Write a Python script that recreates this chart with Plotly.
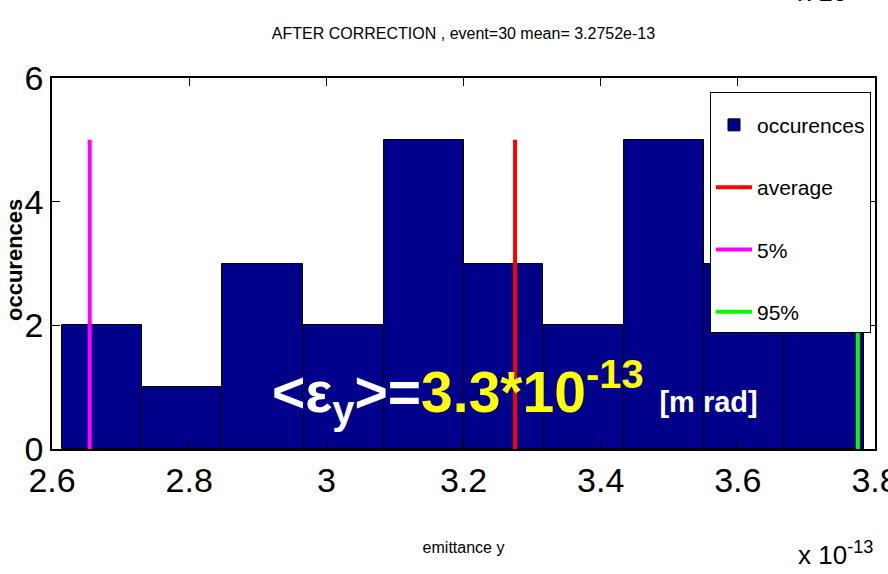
import plotly.graph_objects as go

# ---- data (emittance in units of 1e-13) ----
bin_centers = [2.673, 2.790, 2.907, 3.025, 3.142, 3.258, 3.375, 3.492, 3.609, 3.726]
bin_width = 0.1171
counts = [2, 1, 3, 2, 5, 3, 2, 5, 3, 4]
mean_val = 3.2752
p5_val = 2.655
p95_val = 3.775
marker_height = 5
x_ticks = [2.6, 2.8, 3.0, 3.2, 3.4, 3.6, 3.8]
x_tick_text = ["2.6", "2.8", "3", "3.2", "3.4", "3.6", "3.8"]
y_ticks = [0, 2, 4, 6]

FONT = "Liberation Sans, Arial, sans-serif"

fig = go.Figure()
fig.add_trace(go.Bar(
    x=bin_centers, y=counts, width=bin_width, name="occurences",
    marker=dict(color="#00008b", line=dict(color="black", width=1)),
    legendgroup="a",
))
fig.add_trace(go.Scatter(x=[mean_val, mean_val], y=[0, marker_height], mode="lines",
                         name="average", line=dict(color="#ff0000", width=4), legendgroup="b"))
fig.add_trace(go.Scatter(x=[p5_val, p5_val], y=[0, marker_height], mode="lines",
                         name="5%", line=dict(color="#ff00ff", width=4), legendgroup="c"))
fig.add_trace(go.Scatter(x=[p95_val, p95_val], y=[0, marker_height], mode="lines",
                         name="95%", line=dict(color="#00ff00", width=4), legendgroup="d"))

fig.update_layout(
    width=888, height=574,
    margin=dict(l=52, r=13, t=78, b=125),
    paper_bgcolor="white", plot_bgcolor="white",
    bargap=0,
    title=dict(text="AFTER CORRECTION , event=30 mean= 3.2752e-13",
               x=0.5, xref="paper", y=1 - 33 / 574, yref="container",
               xanchor="center", yanchor="middle",
               font=dict(family=FONT, size=16, color="black")),
    legend=dict(x=(871 - 52) / 823, y=(449 - 92) / 371, xanchor="right", yanchor="top",
                bgcolor="white", bordercolor="black", borderwidth=1,
                font=dict(family=FONT, size=21, color="black"),
                title=dict(text=" ", font=dict(size=9)),
                tracegroupgap=32, itemwidth=36, traceorder="grouped"),
    showlegend=True,
)
fig.update_xaxes(range=[2.6, 3.8], tickvals=x_ticks, ticktext=x_tick_text, automargin=False,
                 ticklabeloverflow="allow",
                 showline=True, linecolor="black", linewidth=1.5, mirror="ticks",
                 ticks="inside", ticklen=8, tickcolor="black", showgrid=False, zeroline=False,
                 tickfont=dict(family=FONT, size=34, color="black"),
                 title=dict(text="emittance y", standoff=44,
                            font=dict(family=FONT, size=16, color="black")))
fig.update_yaxes(range=[0, 6], tickvals=y_ticks, automargin=False,
                 ticklabeloverflow="allow",
                 showline=True, linecolor="black", linewidth=1.5, mirror="ticks",
                 ticks="inside", ticklen=8, tickcolor="black", showgrid=False, zeroline=False,
                 tickfont=dict(family=FONT, size=34, color="black"))

# y axis title
fig.add_annotation(text="<b>occurences</b>", textangle=-90, xref="paper", yref="paper",
                   x=(14 - 52) / 823, y=(449 - 260) / 371, xanchor="center", yanchor="middle",
                   showarrow=False, font=dict(family=FONT, size=22, color="black"))
# exponent labels
fig.add_annotation(text="x 10<sup>-13</sup>", xref="paper", yref="paper",
                   x=1.0, y=(449 - 572) / 371, xanchor="right", yanchor="bottom",
                   showarrow=False, font=dict(family=FONT, size=26, color="black"))
fig.add_annotation(text="x 10<sup>-13</sup>", xref="paper", yref="paper",
                   x=1.0, y=(449 - 9) / 371, xanchor="right", yanchor="bottom",
                   showarrow=False, font=dict(family=FONT, size=26, color="black"))
# big overlay text
fig.add_annotation(
    text="<b>&lt;ε<sub>y</sub>&gt;=<span style='color:#ffff00'>3.3*10<sup>-13</sup></span>"
         " <span style='font-size:29px'>[m rad]</span></b>",
    xref="paper", yref="paper", x=(270 - 52) / 823, y=(449 - 392) / 371,
    xanchor="left", yanchor="middle", showarrow=False,
    font=dict(family=FONT, size=57, color="white"))

fig.write_html("out.html")
